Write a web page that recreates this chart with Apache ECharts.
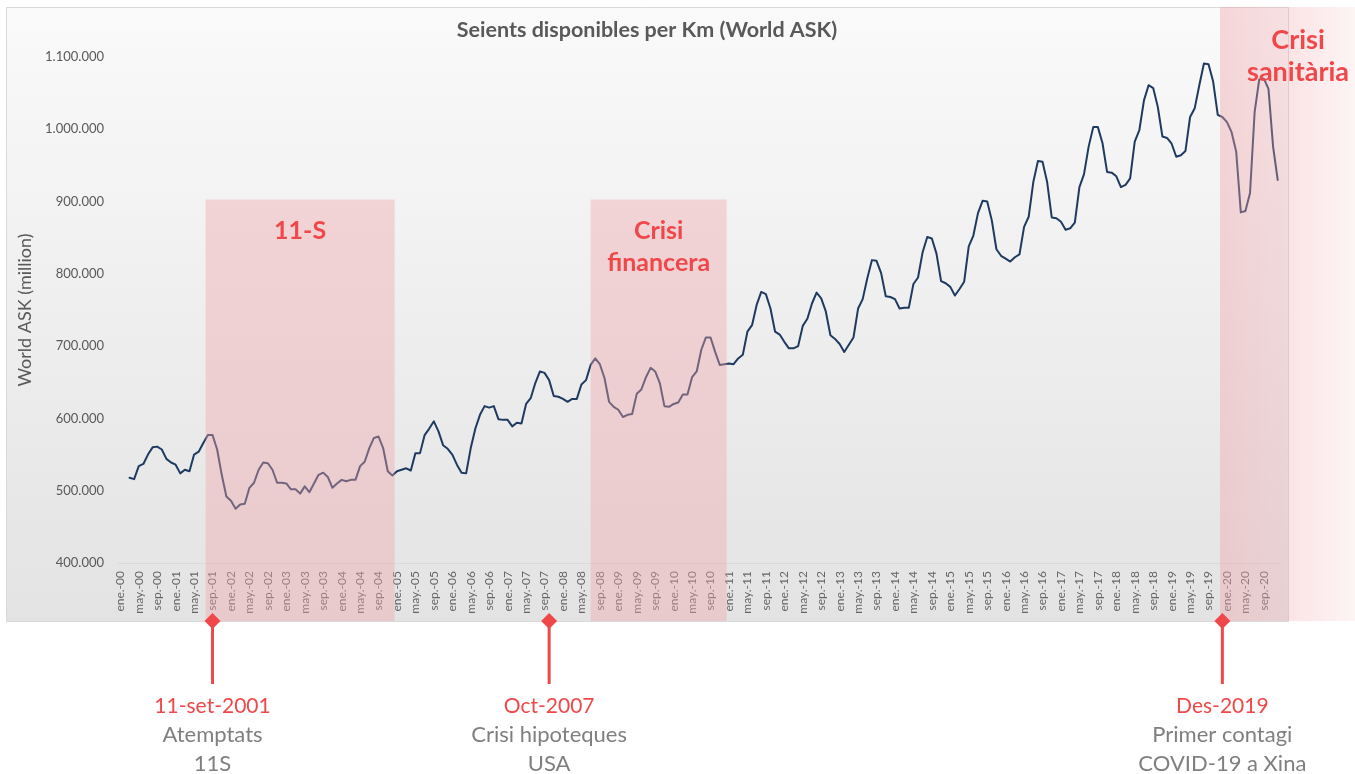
<!DOCTYPE html>
<html>
<head>
<meta charset="utf-8">
<script src="https://cdn.jsdelivr.net/npm/echarts@6/dist/echarts.min.js"></script>
<style>
  html, body { margin: 0; padding: 0; background: #ffffff; }
  #chart { width: 1355px; height: 774px; }
</style>
</head>
<body>
<div id="chart"></div>
<script>
// Month abbreviations and years used for the category axis
const monthNames = ['ene.', 'feb.', 'mar.', 'abr.', 'may.', 'jun.', 'jul.', 'ago.', 'sep.', 'oct.', 'nov.', 'dic.'];
const years = ['00', '01', '02', '03', '04', '05', '06', '07', '08', '09', '10',
               '11', '12', '13', '14', '15', '16', '17', '18', '19', '20'];

// Monthly World ASK (million seat-km), one row per year
const worldAsk = [
  null, null, 518000, 516000, 534000, 537000, 550000, 560000, 561000, 557000, 544000, 539000,
  536000, 524000, 529000, 527000, 550000, 554000, 566000, 577000, 577000, 557000, 522000, 492000,
  486000, 475000, 481000, 482000, 504000, 511000, 529000, 539000, 538000, 529000, 511000, 511000,
  510000, 502000, 502000, 496000, 506000, 498000, 510000, 522000, 525000, 519000, 504000, 510000,
  515000, 513000, 515000, 515000, 534000, 540000, 559000, 573000, 575000, 559000, 527000, 521000,
  527000, 529000, 531000, 528000, 552000, 552000, 577000, 586000, 596000, 582000, 563000, 558000,
  550000, 536000, 525000, 524000, 559000, 586000, 605000, 617000, 615000, 617000, 599000, 598000,
  598000, 589000, 594000, 593000, 620000, 628000, 649000, 665000, 663000, 653000, 631000, 630000,
  627000, 623000, 627000, 627000, 647000, 653000, 674000, 683000, 675000, 656000, 623000, 616000,
  612000, 602000, 605000, 606000, 634000, 640000, 657000, 670000, 665000, 649000, 617000, 616000,
  620000, 622000, 633000, 633000, 657000, 665000, 695000, 712000, 712000, 692000, 674000, 675000,
  676000, 675000, 683000, 688000, 720000, 729000, 757000, 775000, 772000, 752000, 720000, 716000,
  706000, 697000, 697000, 700000, 728000, 738000, 759000, 774000, 766000, 748000, 715000, 710000,
  703000, 692000, 702000, 712000, 752000, 765000, 794000, 819000, 818000, 801000, 769000, 768000,
  765000, 752000, 753000, 753000, 786000, 795000, 830000, 851000, 849000, 828000, 790000, 787000,
  782000, 770000, 779000, 789000, 838000, 853000, 884000, 901000, 900000, 874000, 834000, 825000,
  821000, 817000, 823000, 827000, 865000, 879000, 927000, 956000, 955000, 927000, 878000, 877000,
  872000, 861000, 863000, 871000, 920000, 938000, 976000, 1003000, 1003000, 981000, 941000, 940000,
  935000, 920000, 923000, 932000, 983000, 999000, 1040000, 1061000, 1057000, 1031000, 990000, 988000,
  980000, 962000, 964000, 970000, 1017000, 1029000, 1061000, 1091000, 1090000, 1066000, 1020000, 1017000,
  1010000, 996000, 969000, 885000, 887000, 912000, 1024000, 1069000, 1070000, 1056000, 976000, 930000
];

// Crisis periods shaded over the chart (first and last month covered)
const periodNames = [['11-S'], ['Crisi', 'financera'], ['Crisi', 'sanitària']];
const periodStart = ['ago.-01', 'jul.-08', 'dic.-19'];
const periodEnd = ['dic.-04', 'dic.-10', null];
const periodTop = 903000;

// Events marked under the time axis
const eventMonths = ['sep.-01', 'oct.-07', 'dic.-19'];
const eventDates = ['11-set-2001', 'Oct-2007', 'Des-2019'];
const eventTexts = [['Atemptats', '11S'], ['Crisi hipoteques', 'USA'], ['Primer contagi', 'COVID-19 a Xina']];

const categories = [];
years.forEach(y => monthNames.forEach(m => categories.push(m + '-' + y)));

const FONT = 'Lato, "Noto Sans", sans-serif';
const RED = '#f0484a';
const SHADE = 'rgba(240,165,170,0.40)';
const PANEL = { x: 6, y: 7, w: 1282, h: 614 };

const fmt = v => String(v).replace(/\B(?=(\d{3})+(?!\d))/g, '.');

const chart = echarts.init(document.getElementById('chart'), null, { renderer: 'canvas' });

chart.setOption({
  animation: false,
  backgroundColor: '#ffffff',
  grid: { left: 118, right: 75, top: 57, bottom: 211, containLabel: false },
  xAxis: {
    type: 'category',
    data: categories,
    boundaryGap: true,
    axisLine: { show: true, lineStyle: { color: '#d9d9d9', width: 1 } },
    axisTick: { show: false },
    splitLine: { show: false },
    axisLabel: {
      interval: 3,
      rotate: 90,
      margin: 8,
      color: '#666666',
      fontFamily: FONT,
      fontSize: 12,
      hideOverlap: false
    }
  },
  yAxis: {
    type: 'value',
    min: 400000,
    max: 1100000,
    interval: 100000,
    name: 'World ASK (million)',
    nameLocation: 'middle',
    nameGap: 73,
    nameRotate: 90,
    nameTextStyle: { color: '#595959', fontFamily: FONT, fontSize: 18 },
    axisLine: { show: false },
    axisTick: { show: false },
    splitLine: { show: false },
    axisLabel: {
      margin: 14,
      color: '#595959',
      fontFamily: FONT,
      fontSize: 13,
      formatter: fmt
    }
  },
  series: [{
    type: 'line',
    data: worldAsk,
    showSymbol: false,
    symbol: 'none',
    smooth: false,
    connectNulls: false,
    lineStyle: { color: '#1f3a60', width: 2, join: 'round', cap: 'round' },
    z: 2
  }]
});

function drawOverlays() {
  const pt = (cat, v) => chart.convertToPixel({ xAxisIndex: 0, yAxisIndex: 0 }, [cat, v]);
  const step = pt(categories[1], periodTop)[0] - pt(categories[0], periodTop)[0];
  const panelBottom = PANEL.y + PANEL.h;
  const W = chart.getWidth();
  const g = [];

  // chart panel behind the plot
  g.push({
    type: 'rect', z: -10, silent: true,
    shape: { x: PANEL.x + 0.5, y: PANEL.y + 0.5, width: PANEL.w, height: PANEL.h },
    style: {
      fill: new echarts.graphic.LinearGradient(0, 0, 0, 1, [
        { offset: 0, color: '#fafafa' }, { offset: 1, color: '#e3e3e3' }
      ]),
      stroke: '#d9d9d9', lineWidth: 1
    }
  });

  // title
  g.push({
    type: 'text', z: 5, silent: true,
    x: PANEL.x + PANEL.w / 2, y: 30,
    style: {
      text: 'Seients disponibles per Km (World ASK)',
      fill: '#595959', font: 'bold 21.5px ' + FONT,
      align: 'center', verticalAlign: 'middle',
      textAlign: 'center', textVerticalAlign: 'middle'
    }
  });

  // shaded crisis periods
  periodNames.forEach((names, k) => {
    const open = periodEnd[k] === null;
    // the financial-crisis band starts mid-July 2008
    const x0 = pt(periodStart[k], periodTop)[0] - (k === 1 ? 0 : step / 2);
    const x1 = open ? W : pt(periodEnd[k], periodTop)[0] + step / 2;
    const y0 = open ? PANEL.y : pt(periodStart[k], periodTop)[1];
    const fill = open
      ? new echarts.graphic.LinearGradient(0, 0, 1, 0, [
          { offset: 0, color: 'rgba(240,165,170,0.42)' },
          { offset: 0.5, color: 'rgba(240,165,170,0.30)' },
          { offset: 1, color: 'rgba(240,165,170,0.12)' }
        ])
      : SHADE;
    g.push({
      type: 'rect', z: 50, silent: true,
      shape: { x: x0, y: y0, width: x1 - x0, height: panelBottom - y0 },
      style: { fill: fill }
    });
    const cx = open ? x0 + 78 : (x0 + x1) / 2;
    const ty = open ? PANEL.y + 33 : y0 + 32;
    names.forEach((t, j) => {
      g.push({
        type: 'text', z: 60, silent: true,
        x: cx, y: ty + j * 32,
        style: {
          text: t, fill: RED, font: 'bold ' + (open ? 27 : 25) + 'px ' + FONT,
          align: 'center', verticalAlign: 'middle',
          textAlign: 'center', textVerticalAlign: 'middle'
        }
      });
    });
  });

  // event markers below the axis
  eventMonths.forEach((m, k) => {
    const x = pt(m, periodTop)[0];
    const y = panelBottom;
    g.push({
      type: 'line', z: 70, silent: true,
      shape: { x1: x, y1: y, x2: x, y2: y + 63 },
      style: { stroke: RED, lineWidth: 3 }
    });
    g.push({
      type: 'polygon', z: 71, silent: true,
      shape: { points: [[x, y - 8], [x + 8, y], [x, y + 8], [x - 8, y]] },
      style: { fill: RED }
    });
    g.push({
      type: 'text', z: 70, silent: true,
      x: x, y: y + 85,
      style: {
        text: eventDates[k], fill: RED, font: '21px ' + FONT,
        align: 'center', verticalAlign: 'middle',
        textAlign: 'center', textVerticalAlign: 'middle'
      }
    });
    eventTexts[k].forEach((t, j) => {
      g.push({
        type: 'text', z: 70, silent: true,
        x: x, y: y + 114 + j * 29,
        style: {
          text: t, fill: '#7f7f7f', font: '22px ' + FONT,
          align: 'center', verticalAlign: 'middle',
          textAlign: 'center', textVerticalAlign: 'middle'
        }
      });
    });
  });

  chart.setOption({ graphic: { elements: g } });
}

drawOverlays();
</script>
</body>
</html>
